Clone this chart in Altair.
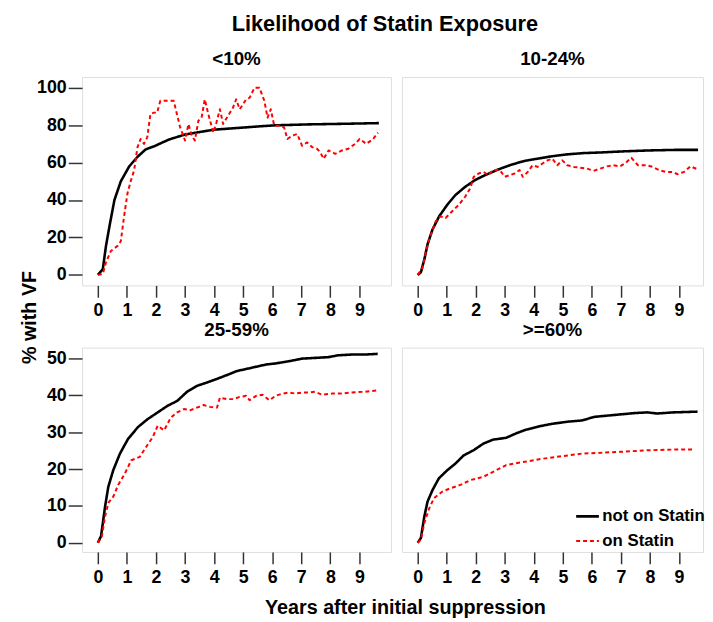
import altair as alt
import pandas as pd

SERIES = ["not on Statin", "on Statin"]
X_TICKS = list(range(10))

# <10%
tl_black_x = [0, 0.17, 0.28, 0.4, 0.57, 0.79, 1.08, 1.36, 1.64, 1.98, 2.44, 3.0, 3.57, 4.0, 4.8, 5.5, 6.07, 7.2, 8.33, 9.67]
tl_black_y = [0, 3, 15.5, 26, 40, 50, 58, 63, 67, 69, 72.3, 75, 76.5, 77.6, 78.5, 79.3, 79.9, 80.4, 80.7, 81.1]
tl_red_x = [0, 0.17, 0.28, 0.45, 0.68, 0.79, 0.9, 1.02, 1.13, 1.25, 1.36, 1.47, 1.59, 1.7, 1.81, 1.93, 2.04, 2.15, 2.38, 2.61,
            2.72, 2.83, 3.0, 3.12, 3.23, 3.34, 3.46, 3.57, 3.68, 3.8, 3.91, 3.97, 4.08, 4.2, 4.31, 4.48, 4.65, 4.76, 4.88, 4.99,
            5.1, 5.22, 5.39, 5.56, 5.73, 5.84, 5.95, 6.07, 6.24, 6.41, 6.52, 6.69, 6.86, 7.03, 7.2, 7.37, 7.54, 7.65, 7.77, 7.94,
            8.17, 8.4, 8.62, 8.85, 9.01, 9.24, 9.47, 9.64]
tl_red_y = [0, 0.5, 6.7, 12.8, 15.5, 18, 31, 43.6, 50, 56, 68, 72.6, 70, 73.5, 86, 86.7, 86.7, 93, 93, 93,
            86, 79, 71.8, 80.6, 74.4, 71.8, 82.4, 84, 93.8, 86, 79.7, 76, 81.4, 88.5, 80.6, 85, 89.4, 93.8, 88.5, 91,
            93.8, 94.6, 100, 100, 93, 84, 88.5, 79.7, 79.7, 78.8, 72.6, 74.4, 75.3, 69, 70.8, 68.3, 67.4, 65.6, 62, 66.5,
            64.7, 66.5, 67.4, 70, 72.6, 70, 72.6, 76]

# 10-24%
tr_black_x = [0, 0.11, 0.23, 0.34, 0.51, 0.74, 1.02, 1.3, 1.64, 1.98, 2.32, 2.77, 3.23, 3.68, 4.13, 4.59, 5.15, 5.72, 6.29, 7.08, 7.98, 8.89, 9.66]
tr_black_y = [0, 1.4, 8.4, 16.4, 24.3, 31.3, 37.5, 42.7, 47.1, 50.7, 53.3, 56.3, 58.9, 60.9, 62.1, 63.3, 64.4, 65.1, 65.4, 66, 66.5, 66.8, 66.8]
tr_red_x = [0, 0.17, 0.28, 0.4, 0.62, 0.79, 0.96, 1.19, 1.42, 1.64, 1.81, 1.93, 2.1, 2.27, 2.43, 2.6, 2.83, 3.0, 3.17, 3.34,
            3.51, 3.62, 3.79, 3.96, 4.13, 4.3, 4.47, 4.64, 4.81, 4.98, 5.15, 5.38, 5.6, 5.83, 6.06, 6.29, 6.52, 6.74, 6.97, 7.14,
            7.36, 7.59, 7.87, 8.1, 8.32, 8.55, 8.78, 8.95, 9.17, 9.4, 9.66]
tr_red_y = [0, 4, 12, 19, 28.7, 31.3, 30.4, 34, 37.5, 41.9, 46.3, 52.4, 54.2, 55, 53.3, 56, 56, 52.4, 53.3, 54.2,
            56, 52.4, 55, 58.6, 57.7, 59.5, 61.2, 62.1, 58.6, 61.2, 58.6, 57.7, 57.3, 56.8, 55.6, 56.8, 58, 58.6, 58, 59.5,
            62.6, 58.6, 58.6, 57.7, 56, 55, 55, 53.8, 55, 58, 56.3]

# 25-59%
bl_black_x = [0, 0.11, 0.25, 0.36, 0.53, 0.76, 1.04, 1.38, 1.72, 2.06, 2.4, 2.73, 3.07, 3.41, 3.75, 4.1, 4.43, 4.77, 5.11, 5.45,
              5.79, 6.12, 6.58, 7.03, 7.48, 7.93, 8.27, 8.72, 9.18, 9.63]
bl_black_y = [0, 1.8, 9.9, 15.2, 19.7, 24.2, 28.2, 31.4, 33.6, 35.4, 37.2, 38.5, 41, 42.6, 43.5, 44.5, 45.5, 46.6, 47.2, 47.8,
              48.4, 48.7, 49.3, 50, 50.2, 50.4, 50.9, 51.1, 51.1, 51.3]
bl_red_x = [0, 0.14, 0.25, 0.36, 0.53, 0.7, 0.93, 1.15, 1.44, 1.66, 1.89, 2.06, 2.28, 2.51, 2.73, 2.96, 3.19, 3.41, 3.64, 3.86,
            4.1, 4.2, 4.43, 4.66, 4.88, 5.11, 5.22, 5.45, 5.67, 5.9, 6.12, 6.35, 6.58, 6.8, 7.03, 7.26, 7.48, 7.71, 8.05, 8.38,
            8.72, 9.18, 9.63]
bl_red_y = [0, 1.8, 7.2, 10.8, 12.5, 15.7, 18.8, 22.4, 23.3, 26, 28.7, 31.8, 30.5, 34, 35.4, 36.3, 36, 36.7, 37.4, 36.9,
            36.7, 39.4, 39, 39, 39.6, 39.9, 38.7, 39.9, 40.2, 38.7, 39.9, 40.5, 40.8, 40.5, 40.8, 40.8, 41, 40.2, 40.5, 40.5,
            40.8, 41, 41.4]

# >=60%
br_black_x = [0, 0.11, 0.23, 0.34, 0.51, 0.73, 1.02, 1.3, 1.58, 1.92, 2.26, 2.6, 3.05, 3.39, 3.73, 4.18, 4.63, 5.2, 5.65, 6.1,
              6.78, 7.46, 7.91, 8.25, 8.81, 9.64]
br_black_y = [0, 1.3, 7.2, 11.2, 14.3, 17.5, 19.7, 21.5, 23.7, 25.1, 26.9, 28, 28.5, 29.7, 30.7, 31.6, 32.3, 32.9, 33.2, 34.2,
              34.7, 35.2, 35.4, 35.1, 35.4, 35.6]
br_red_x = [0, 0.11, 0.23, 0.4, 0.56, 0.85, 1.13, 1.47, 1.81, 2.26, 2.71, 3.05, 3.62, 4.29, 4.97, 5.65, 6.21, 7.0, 7.91, 8.81, 9.53]
br_red_y = [0, 0.9, 5.4, 9.4, 12.1, 13.9, 14.8, 15.7, 17, 17.9, 19.7, 21.1, 21.9, 22.8, 23.5, 24.2, 24.4, 24.7, 25.1, 25.3, 25.3]

FONT = "Liberation Sans"


def frame(bx, by, rx, ry):
    a = pd.DataFrame({"x": bx, "y": by, "series": SERIES[0], "o": range(len(bx))})
    b = pd.DataFrame({"x": rx, "y": ry, "series": SERIES[1], "o": range(len(rx))})
    return pd.concat([a, b], ignore_index=True)


LEGEND = alt.Legend(title=None, orient="none", legendX=499, legendY=432, symbolType="stroke",
                    symbolSize=530, symbolStrokeWidth=2.5, labelFontSize=17, labelFont=FONT,
                    labelFontWeight="bold", labelColor="black", labelOffset=2, rowPadding=4,
                    padding=0)


def panel(title, df, width, height, xmax, ydom, yticks, show_y, ytitle=None, xtitle=None):
    xaxis = alt.Axis(values=X_TICKS, tickSize=12, tickWidth=1.5, tickColor="#333333", domain=False, grid=False,
                     labelFont=FONT, labelFontSize=18, labelFontWeight="bold", labelColor="black", labelPadding=5,
                     title=xtitle, titleFont=FONT, titleFontSize=20, titleFontWeight="bold", titleColor="black",
                     titleX=327, titleY=62, titleAlign="center", titleBaseline="alphabetic")
    if show_y:
        yaxis = alt.Axis(values=yticks, tickSize=14, tickWidth=1.5, tickColor="#333333", domain=False, grid=False,
                         labelFont=FONT, labelFontSize=18, labelFontWeight="bold", labelColor="black", labelPadding=2,
                         title=ytitle, titleFont=FONT, titleFontSize=20, titleFontWeight="bold", titleColor="black",
                         titleX=-47, titleY=243, titleAngle=-90, titleAlign="center", titleBaseline="alphabetic")
    else:
        yaxis = None
    return alt.Chart(df, title=alt.TitleParams(title, font=FONT, fontSize=19, fontWeight="bold", color="black",
                                               offset=12, dy=19, baseline="alphabetic")).mark_line(strokeJoin="round").encode(
        x=alt.X("x:Q", scale=alt.Scale(domain=[-0.544, xmax], nice=False, zero=False), axis=xaxis),
        y=alt.Y("y:Q", scale=alt.Scale(domain=ydom, nice=False, zero=False), axis=yaxis),
        color=alt.Color("series:N", scale=alt.Scale(domain=SERIES, range=["#000000", "#ff0000"]), legend=LEGEND),
        strokeDash=alt.StrokeDash("series:N", scale=alt.Scale(domain=SERIES, range=[[1, 0], [4, 3]]), legend=LEGEND),
        strokeWidth=alt.StrokeWidth("series:N", scale=alt.Scale(domain=SERIES, range=[2.6, 2.0]), legend=None),
        order="o:Q",
    ).properties(width=width, height=height)


tl = panel("<10%", frame(tl_black_x, tl_black_y, tl_red_x, tl_red_y), 313, 211, 10.09, [-5.6, 105.7],
           [0, 20, 40, 60, 80, 100], True, ytitle="% with VF")
tr = panel("10-24%", frame(tr_black_x, tr_black_y, tr_red_x, tr_red_y), 305, 211, 9.83, [-5.6, 105.7],
           [0, 20, 40, 60, 80, 100], False)
bl = panel("25-59%", frame(bl_black_x, bl_black_y, bl_red_x, bl_red_y), 313, 207, 10.09, [-2.5, 53.0],
           [0, 10, 20, 30, 40, 50], True, xtitle="Years after initial suppression")
br = panel(">=60%", frame(br_black_x, br_black_y, br_red_x, br_red_y), 305, 207, 9.83, [-2.5, 53.0],
           [0, 10, 20, 30, 40, 50], False)

chart = alt.concat(tl, tr, bl, br, columns=2, bounds="flush",
                   spacing=alt.RowColnumber(row=63, column=11),
                   title=alt.TitleParams("Likelihood of Statin Exposure", font=FONT, fontSize=22, fontWeight="bold",
                                         color="black", anchor="middle", dx=23, offset=14)
                   ).configure_view(stroke="#808080", strokeWidth=1.5).configure(
    padding={"left": 11, "top": 1, "right": 0, "bottom": 0}, background="white")

chart.save("out.html", embed_options={"renderer": "svg", "actions": False})
